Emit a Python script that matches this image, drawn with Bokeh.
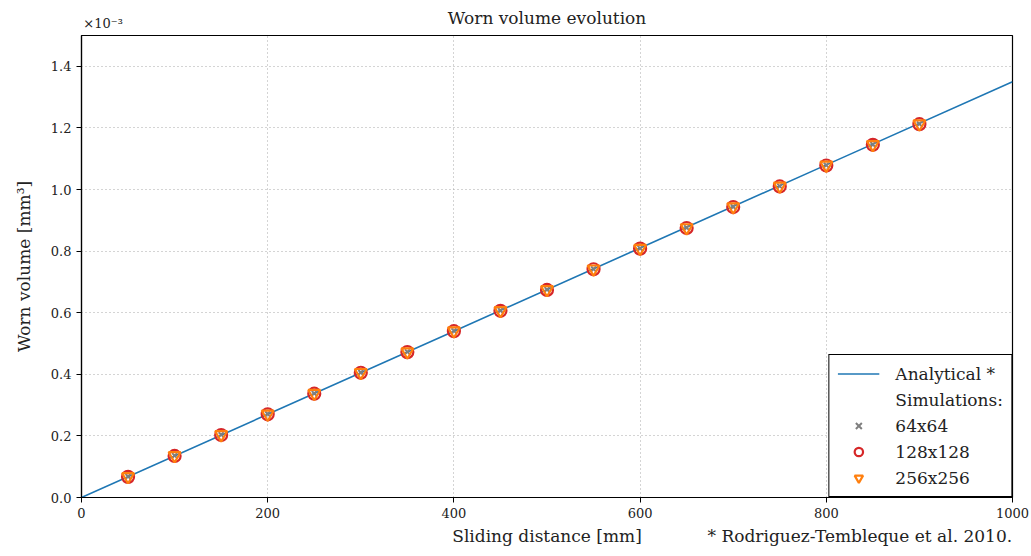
from bokeh.plotting import figure
from bokeh.layouts import column
from bokeh.models import Legend, LegendItem, FixedTicker, Range1d, LinearAxis, Label
from bokeh.embed import file_html
from bokeh.resources import INLINE

# Data (volumes in units of 1e-3 mm^3)
analytical_x = [0, 200, 400, 600, 800, 1000]
analytical_y = [0.0, 0.27, 0.54, 0.81, 1.08, 1.35]

sim_x = [50, 100, 150, 200, 250, 300, 350, 400, 450, 500, 550, 600, 650, 700, 750, 800, 850, 900]
sim_64 = [0.068, 0.136, 0.204, 0.271, 0.338, 0.406, 0.473, 0.541, 0.607, 0.675, 0.742, 0.809, 0.876, 0.944, 1.011, 1.079, 1.146, 1.213]
sim_128 = [0.067, 0.135, 0.203, 0.270, 0.337, 0.405, 0.472, 0.540, 0.606, 0.674, 0.741, 0.808, 0.875, 0.943, 1.010, 1.078, 1.145, 1.212]
sim_256 = [0.068, 0.136, 0.204, 0.271, 0.338, 0.406, 0.473, 0.541, 0.607, 0.675, 0.742, 0.809, 0.876, 0.944, 1.011, 1.079, 1.146, 1.213]

x_ticks = [0, 200, 400, 600, 800, 1000]
y_ticks = [0.0, 0.2, 0.4, 0.6, 0.8, 1.0, 1.2, 1.4]

title_text = "Worn volume evolution"
x_label = "Sliding distance [mm]"
y_label = "Worn volume [mm³]"
footnote = "* Rodriguez-Tembleque et al. 2010."
scale_note = "×10⁻³"

FONT = "DejaVu Serif"
TXT = "#222222"
W = 1031
TOP_H = 34

x_range = Range1d(0, 1000)

# ---- header strip (title + axis multiplier), sharing the x range ----
head = figure(width=W, height=TOP_H, output_backend="svg", toolbar_location=None,
              x_range=x_range, y_range=Range1d(0, TOP_H),
              x_axis_type=None, y_axis_type=None, min_border=0)
head.min_border_left = 81
head.min_border_right = 19
head.outline_line_color = None
for g in head.grid:
    g.visible = False
head.add_layout(Label(x=500, y=TOP_H - 17, text=title_text, text_font=FONT,
                      text_font_size="17px", text_color=TXT, text_align="center",
                      text_baseline="middle"))
head.add_layout(Label(x=2, y=TOP_H - 23, text=scale_note, text_font=FONT,
                      text_font_size="13px", text_color=TXT, text_align="left",
                      text_baseline="middle"))

# ---- main plot ----
p = figure(width=W, height=556 - TOP_H, output_backend="svg", toolbar_location=None,
           x_range=x_range, y_range=Range1d(0, 1.5))
p.min_border_left = 81
p.min_border_right = 19
p.min_border_top = 1
p.min_border_bottom = 59

p.outline_line_color = "black"
p.outline_line_width = 1.2
p.outline_line_alpha = 1

for ax in (p.xaxis[0], p.yaxis[0]):
    ax.major_label_text_font = FONT
    ax.major_label_text_font_size = "13px"
    ax.major_label_text_color = TXT
    ax.axis_label_text_font = FONT
    ax.axis_label_text_font_size = "17px"
    ax.axis_label_text_font_style = "normal"
    ax.axis_label_text_color = TXT
    ax.minor_tick_line_color = None
    ax.major_tick_out = 5
    ax.major_tick_in = 0
    ax.major_tick_line_color = "black"
    ax.axis_line_color = "black"
    ax.axis_line_width = 1.2

p.xaxis.ticker = FixedTicker(ticks=x_ticks)
p.yaxis.ticker = FixedTicker(ticks=y_ticks)
p.yaxis.major_label_overrides = {v: f"{v:.1f}" for v in y_ticks}
p.yaxis.axis_label = y_label
p.yaxis.axis_label_standoff = 14

# second bottom axis carries the x label (centred) and the footnote (right)
foot_x = 836
ax2 = LinearAxis(ticker=FixedTicker(ticks=[500, foot_x]),
                 major_label_overrides={500: x_label, foot_x: footnote})
ax2.major_label_text_font = FONT
ax2.major_label_text_font_size = "17px"
ax2.major_label_text_color = TXT
ax2.major_tick_out = 0
ax2.major_tick_in = 0
ax2.minor_tick_line_color = None
ax2.major_tick_line_color = None
ax2.axis_line_color = None
ax2.major_label_standoff = 5
p.add_layout(ax2, "below")

p.xgrid.ticker = FixedTicker(ticks=x_ticks)
p.ygrid.ticker = FixedTicker(ticks=y_ticks)
for g in (p.xgrid[0], p.ygrid[0]):
    g.grid_line_color = "#a8a8a8"
    g.grid_line_dash = "1 3"
    g.grid_line_width = 1

line = p.line(analytical_x, analytical_y, line_color="#1f77b4", line_width=1.6)
r64 = p.scatter(sim_x, sim_64, marker="x", size=7, line_color="#7f7f7f", line_width=2)
r128 = p.scatter(sim_x, sim_128, marker="circle", size=12, line_color="#d62728",
                 fill_color=None, line_width=2.2)
r256 = p.scatter(sim_x, sim_256, marker="inverted_triangle", size=12, line_color="#ff7f0e",
                 fill_color=None, line_width=2.2)
dummy = p.scatter(x=[], y=[], marker="circle", size=1, line_alpha=0, fill_alpha=0)

legend = Legend(items=[
    LegendItem(label="Analytical *", renderers=[line]),
    LegendItem(label="Simulations:", renderers=[dummy]),
    LegendItem(label="64x64", renderers=[r64]),
    LegendItem(label="128x128", renderers=[r128]),
    LegendItem(label="256x256", renderers=[r256]),
], location="bottom_right")
legend.margin = 0
legend.padding = 8
legend.spacing = 5
legend.label_height = 21
legend.glyph_height = 21
legend.glyph_width = 42
legend.label_standoff = 16
legend.label_text_font = FONT
legend.label_text_font_size = "17px"
legend.label_text_color = TXT
legend.border_line_color = "black"
legend.border_line_width = 1.2
legend.border_line_alpha = 1
legend.background_fill_alpha = 1
p.add_layout(legend)

layout = column(head, p, spacing=0)
open("out.html", "w").write(file_html(layout, INLINE))
